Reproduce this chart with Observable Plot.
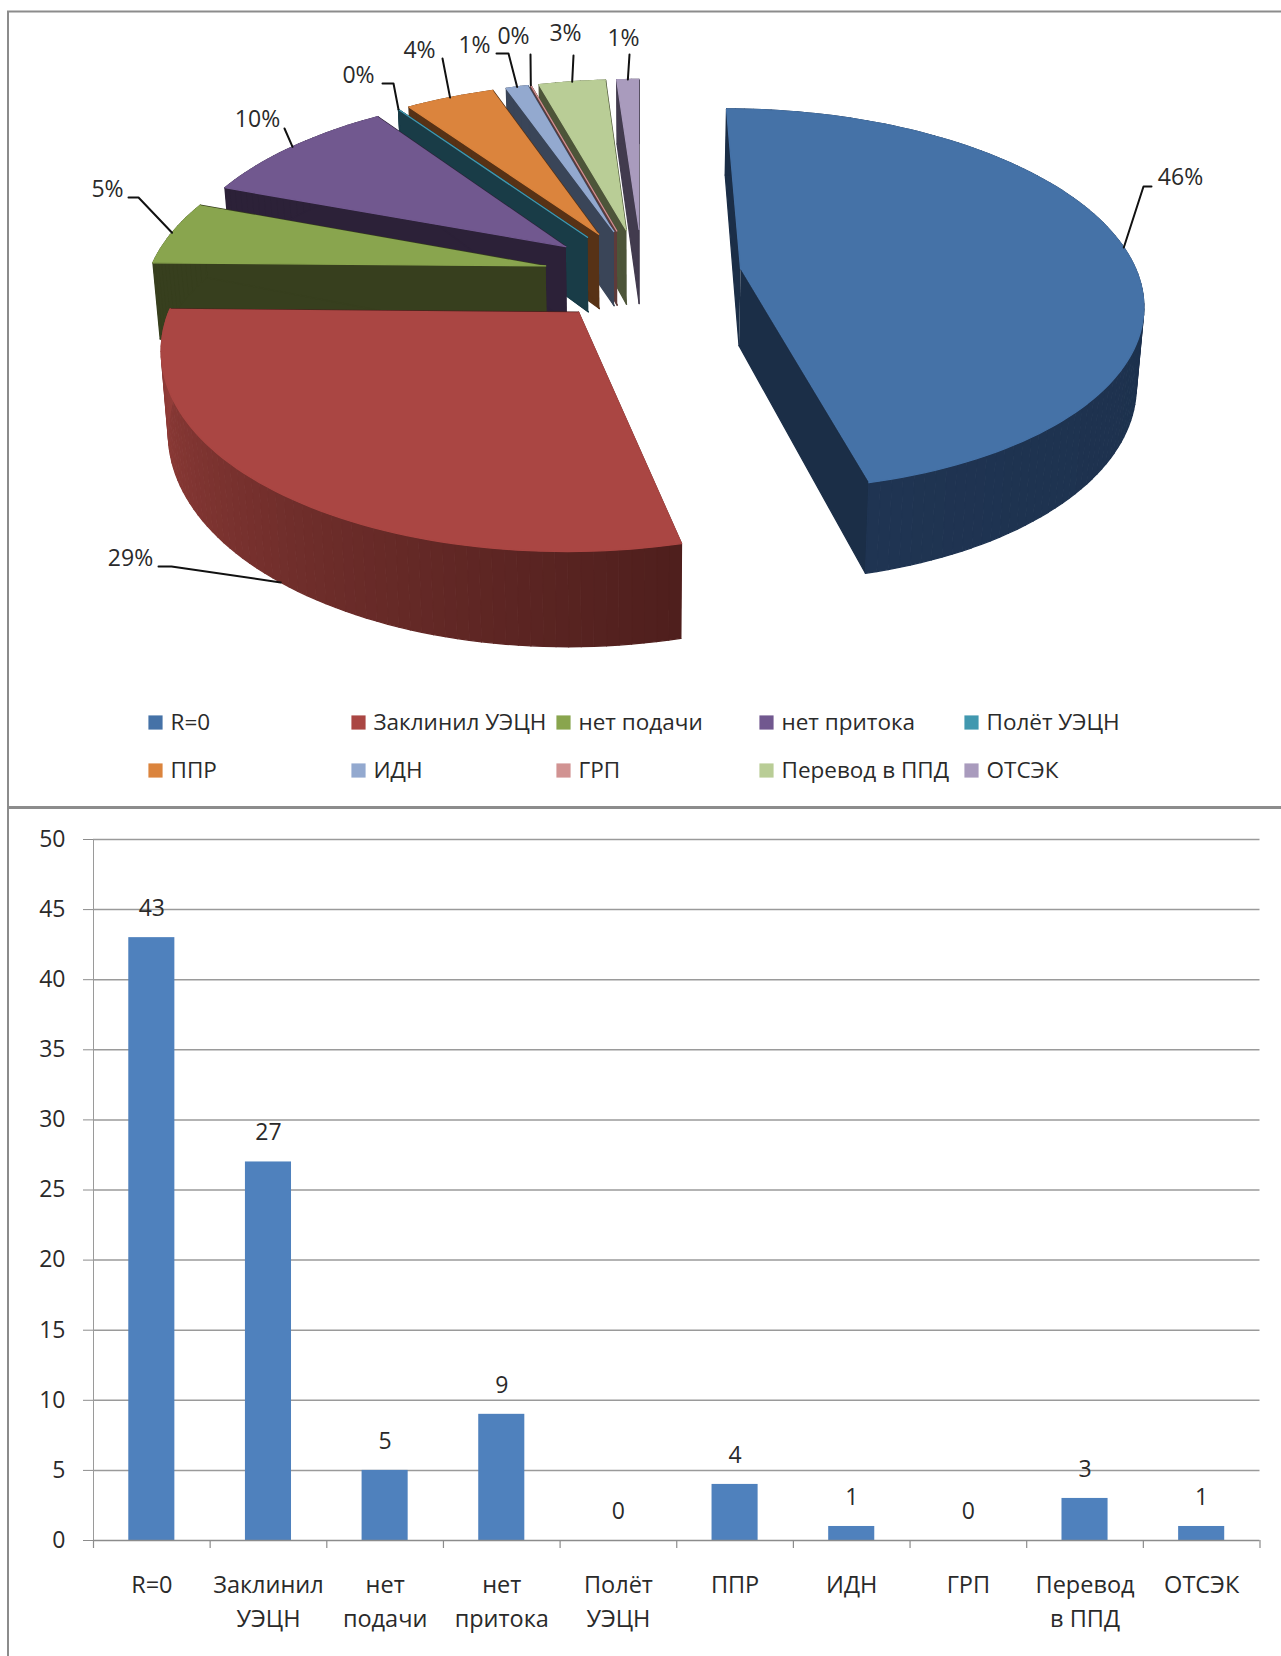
<!DOCTYPE html>
<html lang="ru">
<head>
<meta charset="utf-8">
<title>Причины отказов</title>
<script src="https://cdn.jsdelivr.net/npm/d3@7"></script>
<script src="https://cdn.jsdelivr.net/npm/@observablehq/plot@0.6"></script>
<style>
  html, body { margin: 0; padding: 0; background: #fff; }
  svg { display: block; }
</style>
</head>
<body>
<div id="pie"></div>
<div id="bars"></div>
<script>
// Chart values
const categories = ["R=0", "Заклинил УЭЦН", "нет подачи", "нет притока", "Полёт УЭЦН", "ППР", "ИДН", "ГРП", "Перевод в ППД", "ОТСЭК"];
const axisLabels = ["R=0", "Заклинил\nУЭЦН", "нет\nподачи", "нет\nпритока", "Полёт\nУЭЦН", "ППР", "ИДН", "ГРП", "Перевод\nв ППД", "ОТСЭК"];
const counts = [43, 27, 5, 9, 0, 4, 1, 0, 3, 1];
const yTicks = [0, 5, 10, 15, 20, 25, 30, 35, 40, 45, 50];

// Slice colours: upper face and side wall
const topColors = ["#4572a7", "#aa4643", "#89a54e", "#71588f", "#4198af", "#db843d", "#93a9cf", "#d19392", "#b9cd96", "#a99bbd"];
const wallColors = ["#1b2e47", "#4f1f1d", "#373f1e", "#2c2138", "#193c47", "#573216", "#3a4558", "#5e3b3a", "#4d5539", "#423b4e"];
// Outer rim shading, from the start of a slice's arc to its end
const rimStart = ["#1a2d46", "#4f1f1d", "#373f1e", "#2c2138", "#193c47", "#573216", "#3a4558", "#5e3b3a", "#4d5539", "#423b4e"];
const rimEnd = ["#1f3452", "#963f3b", "#373f1e", "#2c2138", "#193c47", "#573216", "#3a4558", "#5e3b3a", "#4d5539", "#423b4e"];

// Callouts: elbow points of the leader and where the percentage sits
const callouts = [
  {bend: [[1143, 186], [1151, 186]], label: [1180, 177]},
  {bend: [[171, 566], [158, 566]], label: [130, 558]},
  {bend: [[138, 197], [128, 197]], label: [107, 189]},
  {bend: [[284, 128]], label: [257, 119]},
  {bend: [[393, 83], [382, 83]], label: [358, 75]},
  {bend: [[442, 58]], label: [419, 50]},
  {bend: [[508, 53], [496, 53]], label: [474, 45]},
  {bend: [[530, 54]], label: [513, 36]},
  {bend: [[573, 55]], label: [565, 33]},
  {bend: [[629, 54]], label: [623, 38]}
];

// Legend grid
const legendColumns = [148, 351, 556, 759, 964];
const legendRows = [722, 770];

const FONT = "'Open Sans', sans-serif";
const INK = "#2a2a2a";
const BORDER = "#8c8c8c";

// Perspective view of the exploded pie: radius 1 in the pie plane, z = 1 on the underside
const view = {vanishX: 638, horizon: -894, skew: 4, scaleX: 397, scaleY: 1168, depth: 77, taper: 0.015, k: 0.1604, explode: 0.25};

const total = d3.sum(counts);
let running = 0;
const slices = counts.map((v, i) => {
  const a0 = running / total * 2 * Math.PI;
  running += v;
  const a1 = running / total * 2 * Math.PI;
  return {i, a0, a1, mid: (a0 + a1) / 2, pct: `${Math.round(v / total * 100)}%`};
});

function project(s, angle, r, z) {
  const u = view.explode * Math.sin(s.mid) + r * Math.sin(angle);
  const v = view.explode * Math.cos(s.mid) + r * Math.cos(angle);
  const w = 1 + view.k * v;
  return [
    view.vanishX + (view.skew + view.scaleX * u) * (1 - view.taper * z) / w,
    view.horizon + (view.scaleY + view.depth * z) / w
  ];
}

// Faces are painted back to front, so that nearer slices cover the farther ones
const faces = [];
function addFace(points, color) {
  const id = faces.length ? faces[faces.length - 1].id + 1 : 0;
  for (const [x, y] of points) faces.push({id, x, y, color});
}
function arc(a0, a1) {
  const steps = Math.max(1, Math.ceil((a1 - a0) / (Math.PI / 120)));
  return d3.range(steps + 1).map(n => a0 + (a1 - a0) * n / steps);
}
for (const s of [...slices].reverse()) {
  const {i, a0, a1} = s;
  addFace([project(s, a0, 0, 0), project(s, a0, 1, 0), project(s, a0, 1, 1), project(s, a0, 0, 1)], wallColors[i]);
  addFace([project(s, a1, 0, 0), project(s, a1, 1, 0), project(s, a1, 1, 1), project(s, a1, 0, 1)], wallColors[i]);
  const angles = arc(a0, a1);
  const shade = d3.interpolateRgb(rimStart[i], rimEnd[i]);
  for (let n = 0; n + 1 < angles.length; n++) {
    addFace([project(s, angles[n], 1, 0), project(s, angles[n + 1], 1, 0), project(s, angles[n + 1], 1, 1), project(s, angles[n], 1, 1)],
      shade(n / (angles.length - 1)));
  }
  addFace([project(s, a0, 0, 0), ...angles.map(a => project(s, a, 1, 0))], topColors[i]);
}

// Leaders start on the rim at the middle of each slice; the red one meets its lower edge
const leaders = slices.flatMap(s => {
  const start = project(s, s.mid, 1, s.i === 1 ? 1 : 0);
  return [start, ...callouts[s.i].bend].map(([x, y]) => ({x, y, id: s.i}));
});
const labelRows = slices.map(s => ({x: callouts[s.i].label[0], y: callouts[s.i].label[1], text: s.pct}));

const legendItems = categories.map((name, i) => ({
  name,
  color: topColors[i],
  x: legendColumns[i % 5],
  y: legendRows[Math.floor(i / 5)]
}));

const pieHeight = 809;
const pie = Plot.plot({
  width: 1281,
  height: pieHeight,
  margin: 0,
  x: {domain: [0, 1281], range: [0, 1281], axis: null},
  y: {domain: [0, pieHeight], range: [0, pieHeight], axis: null},
  color: {type: "identity"},
  style: {fontFamily: FONT, background: "#fff", overflow: "hidden"},
  marks: [
    Plot.line(faces, {x: "x", y: "y", z: "id", fill: "color", stroke: "color", strokeWidth: 1.3, strokeLinejoin: "round"}),
    Plot.line(leaders, {x: "x", y: "y", z: "id", stroke: "#111", strokeWidth: 2}),
    Plot.text(labelRows, {x: "x", y: "y", text: "text", fontSize: 23, fill: INK}),
    Plot.dot(legendItems, {x: "x", y: "y", dx: 7, symbol: "square", r: 8, fill: "color"}),
    Plot.text(legendItems, {x: "x", y: "y", dx: 22, text: "name", textAnchor: "start", fontSize: 22.5, fill: INK}),
    // Panel border, open on the right
    Plot.ruleY([11], {x1: 7, x2: 1281, stroke: BORDER, strokeWidth: 2}),
    Plot.ruleY([807], {x1: 7, x2: 1281, stroke: BORDER, strokeWidth: 3}),
    Plot.ruleX([7.5], {y1: 11, y2: 809, stroke: BORDER, strokeWidth: 2})
  ]
});
document.getElementById("pie").append(pie);

const rows = categories.map((name, i) => ({name, value: counts[i], label: axisLabels[i]}));
const labelFor = new Map(rows.map(d => [d.name, d.label]));

const barWidthTotal = 1281, marginLeft = 93, marginRight = 21.5;
const step = (barWidthTotal - marginLeft - marginRight) / categories.length;

const bars = Plot.plot({
  width: barWidthTotal,
  height: 847,
  marginLeft,
  marginRight,
  marginTop: 30,
  marginBottom: 116,
  x: {domain: categories, paddingInner: 0.605, paddingOuter: 0.3025, round: false, axis: null},
  y: {domain: [0, 50], axis: null},
  style: {fontFamily: FONT, background: "#fff"},
  marks: [
    Plot.ruleY(yTicks.slice(1), {stroke: "#9a9a9a", strokeWidth: 1.5}),
    Plot.axisY({ticks: yTicks, tickSize: 10, tickPadding: 18, fontSize: 23, stroke: "#8c8c8c", fill: INK, label: null}),
    Plot.barY(rows, {x: "name", y: "value", fill: "#4f81bd"}),
    Plot.frame({anchor: "left", stroke: "#9a9a9a"}),
    Plot.ruleY([0], {stroke: "#8c8c8c", strokeWidth: 1.5}),
    // Ticks sit on the category boundaries, not the bar centres
    Plot.ruleX(categories, {y1: 0, y2: -0.57, dx: -step / 2, stroke: "#8c8c8c", strokeWidth: 1.2}),
    Plot.ruleX(categories.slice(-1), {y1: 0, y2: -0.57, dx: step / 2, stroke: "#8c8c8c", strokeWidth: 1.2}),
    Plot.axisX({tickSize: 0, tickPadding: 28, fontSize: 23.5, fill: INK, lineHeight: 1.45, tickFormat: d => labelFor.get(d), label: null}),
    Plot.text(rows, {x: "name", y: "value", text: "value", dy: -29, fontSize: 23, fill: INK}),
    // Left edge of the panel
    Plot.ruleX([categories[0]], {y1: 52.3, y2: -8.3, dx: -(step / 2 + 85.5), stroke: BORDER, strokeWidth: 2})
  ]
});
document.getElementById("bars").append(bars);
</script>
</body>
</html>
